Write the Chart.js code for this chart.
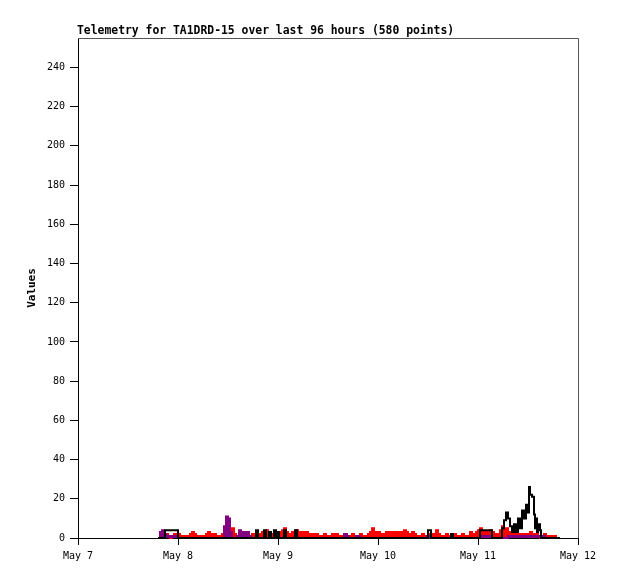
<!DOCTYPE html>
<html>
<head>
<meta charset="utf-8">
<script src="https://cdn.jsdelivr.net/npm/chart.js@4.4.0/dist/chart.umd.min.js"></script>
<style>
  body { margin: 0; background: #fff; }
  canvas { display: block; }
</style>
</head>
<body>
<canvas id="telemetry_chart" width="618" height="579"></canvas>
<script>
// days since May 7 00:00
var xTickPos = [0, 1, 2, 3, 4, 5];
var xLabels = ["May 7", "May 8", "May 9", "May 10", "May 11", "May 12"];
var yTicks = [0, 20, 40, 60, 80, 100, 120, 140, 160, 180, 200, 220, 240];

var redT = [
    0.80,0.82,0.84,0.86,0.88,0.90,0.92,0.94,0.96,0.98,
    1.00,1.02,1.04,1.06,1.08,1.10,1.12,1.14,1.16,1.18,
    1.20,1.22,1.24,1.26,1.28,1.30,1.32,1.34,1.36,1.38,
    1.40,1.42,1.44,1.46,1.48,1.50,1.52,1.54,1.56,1.58,
    1.60,1.62,1.64,1.66,1.68,1.70,1.72,1.74,1.76,1.78,
    1.80,1.82,1.84,1.86,1.88,1.90,1.92,1.94,1.96,1.98,
    2.00,2.02,2.04,2.06,2.08,2.10,2.12,2.14,2.16,2.18,
    2.20,2.22,2.24,2.26,2.28,2.30,2.32,2.34,2.36,2.38,
    2.40,2.42,2.44,2.46,2.48,2.50,2.52,2.54,2.56,2.58,
    2.60,2.62,2.64,2.66,2.68,2.70,2.72,2.74,2.76,2.78,
    2.80,2.82,2.84,2.86,2.88,2.90,2.92,2.94,2.96,2.98,
    3.00,3.02,3.04,3.06,3.08,3.10,3.12,3.14,3.16,3.18,
    3.20,3.22,3.24,3.26,3.28,3.30,3.32,3.34,3.36,3.38,
    3.40,3.42,3.44,3.46,3.48,3.50,3.52,3.54,3.56,3.58,
    3.60,3.62,3.64,3.66,3.68,3.70,3.72,3.74,3.76,3.78,
    3.80,3.82,3.84,3.86,3.88,3.90,3.92,3.94,3.96,3.98,
    4.00,4.02,4.04,4.06,4.08,4.10,4.12,4.14,4.16,4.18,
    4.20,4.22,4.24,4.26,4.28,4.30,4.32,4.34,4.36,4.38,
    4.40,4.42,4.44,4.46,4.48,4.50,4.52,4.54,4.56,4.58,
    4.60,4.62,4.64,4.66,4.68,4.70,4.72,4.74,4.76,4.78,
    4.80
];
var redV = [
    0,1,2,1,2,1,0,1,2,1,
    2,0,1,1,0,1,2,3,2,1,
    0,1,1,0,2,3,2,1,2,1,
    0,1,2,1,2,3,4,5,2,1,
    0,1,0,1,1,0,1,2,1,2,
    1,2,3,2,4,3,2,1,3,2,
    1,3,4,5,3,2,1,3,1,4,
    3,2,3,2,3,2,1,2,1,2,
    1,0,1,2,1,0,1,2,1,2,
    1,0,1,0,1,0,1,2,1,0,
    1,2,1,0,1,2,3,5,3,2,
    3,2,1,2,3,2,3,2,3,2,
    3,2,3,4,3,1,2,3,2,1,
    0,1,2,1,0,1,2,1,2,4,
    2,1,0,1,2,1,0,1,2,1,
    0,1,2,1,0,1,3,2,1,3,
    4,5,3,2,3,2,4,3,1,2,
    1,4,6,4,5,3,2,3,2,1,
    2,1,2,1,2,1,3,2,1,2,
    1,0,1,2,1,0,1,0,1,0,
    0
];

var purpleT = [0.80,0.82,0.84,0.86,0.88,1.00,1.46,1.48,1.50,1.52,1.54,1.59,1.61,1.63,1.65,
    1.67,1.69,1.71,1.73,2.66,2.69,2.71,2.78,2.82,3.49,3.51,4.02,4.14,4.30,4.67];
var purpleV = [0,3,4,2,1,0,6,11,10,3,0,1,4,2,3,
    2,3,1,0,2,1,0,1,0,1,0,1,0,1,0];

var blackT = [0.80,0.87,1.00,1.78,1.80,1.86,1.88,1.91,1.93,1.96,1.98,1.99,2.01,2.06,2.08,
    2.17,2.19,3.50,3.53,3.73,3.75,4.02,4.14,4.24,4.26,4.28,4.30,4.32,4.34,4.36,
    4.38,4.40,4.42,4.44,4.46,4.48,4.50,4.51,4.52,4.54,4.56,4.57,4.58,4.59,4.60,
    4.62,4.63,4.82];
var blackV = [0,4,0,4,0,4,0,3,0,4,0,3,0,4,0,
    4,0,4,0,2,0,4,0,5,9,13,10,6,3,7,
    3,10,5,14,10,17,13,26,22,21,12,5,10,3,7,
    4,0,0];

function pts(t, v) {
    return t.map(function(x, i) { return { x: x, y: v[i] }; });
}

var monoFont = '"DejaVu Sans Mono", "Liberation Mono", monospace';

var frame = {
    id: 'frame',
    afterDraw: function(chart) {
        var a = chart.chartArea, ctx = chart.ctx;
        ctx.save();
        ctx.strokeStyle = '#555';
        ctx.lineWidth = 1;
        ctx.beginPath();
        ctx.moveTo(a.left, a.top + 0.5);
        ctx.lineTo(a.right + 0.5, a.top + 0.5);
        ctx.lineTo(a.right + 0.5, a.bottom);
        ctx.stroke();
        ctx.fillStyle = '#000';
        ctx.font = 'bold 11.4px ' + monoFont;
        ctx.textBaseline = 'middle';
        ctx.textAlign = 'left';
        ctx.fillText('Telemetry for TA1DRD-15 over last 96 hours (580 points)', 77, 31);
        ctx.restore();
    }
};

var ctx = document.getElementById('telemetry_chart');
var chart = new Chart(ctx, {
    type: 'line',
    data: {
        datasets: [
            { label: "black", data: pts(blackT, blackV), borderColor: '#000000' },
            { label: "purple", data: pts(purpleT, purpleV), borderColor: '#800080',
              fill: 'origin', backgroundColor: '#800080' },
            { label: "red", data: pts(redT, redV), borderColor: '#ff0000',
              fill: 'origin', backgroundColor: '#ff0000' }
        ]
    },
    options: {
        responsive: false,
        animation: false,
        devicePixelRatio: 1,
        layout: { padding: { left: 0, right: 40, top: 38, bottom: 0 } },
        elements: {
            point: { radius: 0 },
            line: { borderWidth: 2, stepped: true, tension: 0 }
        },
        datasets: { line: { clip: false } },
        plugins: { legend: { display: false }, tooltip: { enabled: false } },
        scales: {
            x: {
                type: 'linear',
                min: 0, max: 5,
                afterBuildTicks: function(s) { s.ticks = xTickPos.map(function(v) { return { value: v }; }); },
                afterFit: function(s) { s.height = 41; },
                grid: { drawOnChartArea: false, drawTicks: true, tickLength: 7, color: '#000' },
                border: { color: '#000', width: 1 },
                ticks: {
                    autoSkip: false, maxRotation: 0, padding: 5, color: '#000',
                    font: { family: monoFont, size: 10 },
                    callback: function(v) { return xLabels[xTickPos.indexOf(v)]; }
                }
            },
            y: {
                min: 0, max: 255,
                afterBuildTicks: function(s) { s.ticks = yTicks.map(function(v) { return { value: v }; }); },
                afterFit: function(s) { s.width = 78; },
                grid: { drawOnChartArea: false, drawTicks: true, tickLength: 8, color: '#000' },
                border: { color: '#000', width: 1 },
                ticks: { padding: 5, color: '#000', font: { family: monoFont, size: 10 } },
                title: {
                    display: true, text: 'Values', color: '#000',
                    font: { family: monoFont, size: 11, weight: 'bold' },
                    padding: { top: 26, bottom: 0 }
                }
            }
        }
    },
    plugins: [frame]
});
</script>
</body>
</html>
